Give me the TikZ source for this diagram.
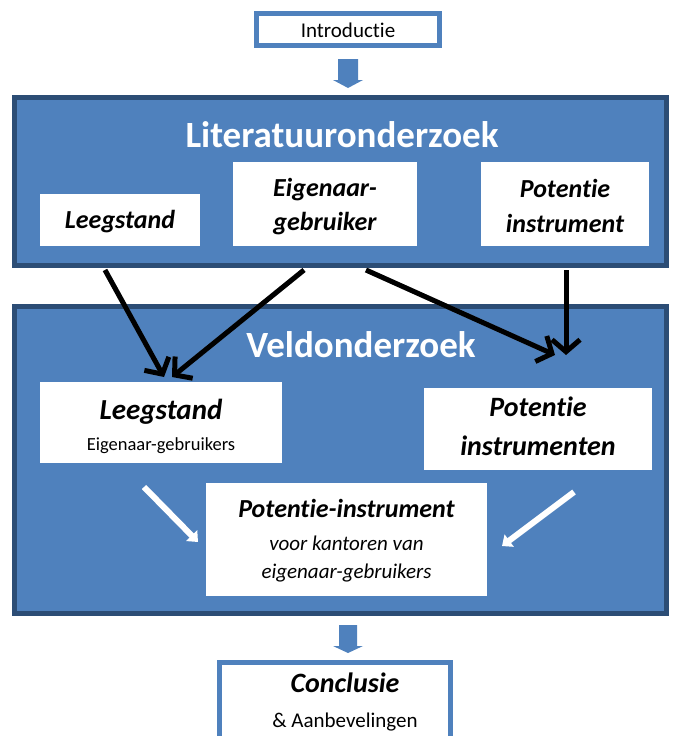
\documentclass[tikz,border=0pt]{standalone}
\usepackage{fontspec}
\setmainfont[Ligatures=NoCommon]{Carlito}
\usetikzlibrary{arrows.meta}
\definecolor{fillblue}{HTML}{4F81BD}
\definecolor{darkblue}{HTML}{2C4D75}
\tikzset{
  bigbox/.style={draw=darkblue, line width=5pt, fill=fillblue},
  wbox/.style={fill=white, inner sep=0pt, minimum width=#1},
  outlinebox/.style={draw=fillblue, line width=5pt, fill=white, inner sep=0pt},
  heading/.style={text=white, font=\fontsize{37}{40}\selectfont\bfseries, anchor=base, inner sep=0pt},
  txt/.style={anchor=base, inner sep=0pt},
  bbi/.style={font=\fontsize{#1}{#1}\selectfont\bfseries\itshape},
  blackarrow/.style={line width=5pt, -{Straight Barb[length=12pt,width=28pt]}},
  shadowarrow/.style={line width=5pt, black!45, opacity=0.5, -{Straight Barb[length=12pt,width=28pt]}},
  whitearrow/.style={line width=6pt, white, -{Triangle[length=9pt,width=15pt]}},
  blockarrow/.style={fill=fillblue, draw=none}
}
\begin{document}
\begin{tikzpicture}[x=1pt,y=-1pt]
\useasboundingbox (0,0) rectangle (672,736);
\clip (0,0) rectangle (672,736);

% Introductie
\node[outlinebox, minimum width=183pt, minimum height=32pt] (intro) at (348,29.5) {};
\node[txt, font=\fontsize{21}{24}\selectfont] (introT) at (348,37) {Introductie};
\path[blockarrow] (338,59) -- (358,59) -- (358,80) -- (363,80) -- (348,88) -- (333,80) -- (338,80) -- cycle;

% Literatuuronderzoek
\node[bigbox, minimum width=652pt, minimum height=168pt, inner sep=0pt] (lit) at (340.5,181.5) {};
\node[heading] (litT) at (342,147) {Literatuuronderzoek};
\node[wbox=160pt, minimum height=52pt] (litA) at (120,220) {};
\node[txt, bbi=26] (litAT) at (120,228) {Leegstand};
\node[wbox=184pt, minimum height=84pt] (litB) at (325,204) {};
\node[txt, bbi=26] (litBT1) at (325,196) {Eigenaar-};
\node[txt, bbi=26] (litBT2) at (325,230) {gebruiker};
\node[wbox=168pt, minimum height=84pt] (litC) at (565,204) {};
\node[txt, bbi=26] (litCT1) at (565,197) {Potentie};
\node[txt, bbi=26] (litCT2) at (565,232) {instrument};

% Veldonderzoek
\node[bigbox, minimum width=652pt, minimum height=307pt, inner sep=0pt] (veld) at (340.5,460) {};
\node[heading] (veldT) at (361,357) {Veldonderzoek};
\node[wbox=242pt, minimum height=81pt] (veldA) at (161,422.5) {};
\node[txt, bbi=29] (veldAT1) at (161,419) {Leegstand};
\node[txt, font=\fontsize{18.5}{20}\selectfont] (veldAT2) at (161,450) {Eigenaar-gebruikers};
\node[wbox=228pt, minimum height=82pt] (veldB) at (538,429) {};
\node[txt, bbi=28] (veldBT1) at (538,416) {Potentie};
\node[txt, bbi=28] (veldBT2) at (538,455) {instrumenten};
\node[wbox=281pt, minimum height=113pt] (veldC) at (346.5,539.5) {};
\node[txt, bbi=26] (veldCT1) at (346.5,517) {Potentie-instrument};
\node[txt, font=\fontsize{21}{22}\selectfont\itshape] (veldCT2) at (346.5,550) {voor kantoren van};
\node[txt, font=\fontsize{21}{22}\selectfont\itshape] (veldCT3) at (346.5,578) {eigenaar-gebruikers};

% white arrows
\coordinate (w1s) at (144,487);
\coordinate (w1e) at (198,542);
\coordinate (w2s) at (574,492);
\coordinate (w2e) at (502,546);
\draw[whitearrow] (w1s) -- (w1e);
\draw[whitearrow] (w2s) -- (w2e);

% black arrows
\coordinate (s1) at (105,270);
\coordinate (s2) at (304,270);
\coordinate (s3) at (366,270);
\coordinate (s4) at (566,270);
\coordinate (e1) at (164,377);
\coordinate (e2) at (172,377);
\coordinate (e3) at (555,355);
\coordinate (e4) at (566,355);
\begin{scope}[xshift=3pt,yshift=-3pt]
\draw[shadowarrow] (s1) -- (e1);
\draw[shadowarrow] (s2) -- (e2);
\draw[shadowarrow] (s3) -- (e3);
\draw[shadowarrow] (s4) -- (e4);
\end{scope}
\draw[blackarrow] (s1) -- (e1);
\draw[blackarrow] (s2) -- (e2);
\draw[blackarrow] (s3) -- (e3);
\draw[blackarrow] (s4) -- (e4);

% Conclusie
\path[blockarrow] (339,625) -- (357,625) -- (357,646) -- (363,646) -- (348,653) -- (333,646) -- (339,646) -- cycle;
\node[outlinebox, minimum width=231pt, minimum height=90pt] (concl) at (335,707.5) {};
\node[txt, bbi=28] (conclT1) at (345,692) {Conclusie};
\node[txt, font=\fontsize{21}{24}\selectfont] (conclT2) at (345,727) {\& Aanbevelingen};
\end{tikzpicture}
\end{document}
